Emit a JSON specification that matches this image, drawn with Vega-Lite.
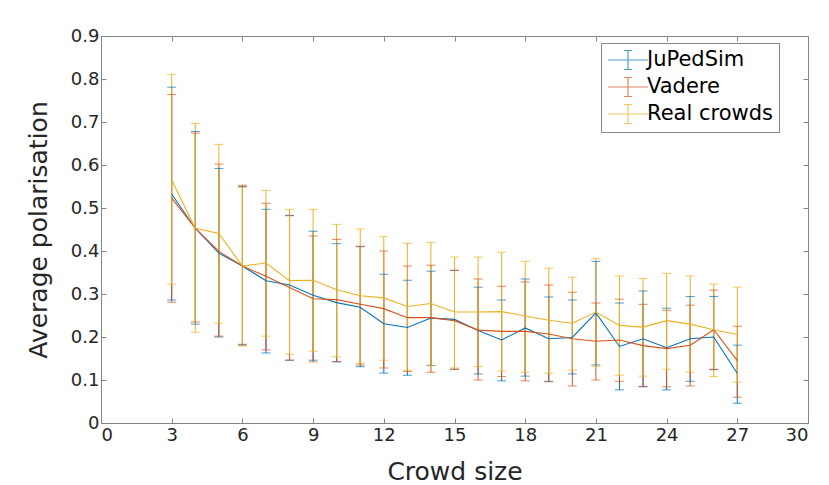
{
  "$schema": "https://vega.github.io/schema/vega-lite/v6.json",
  "width": 707,
  "height": 387,
  "autosize": {"type": "none"},
  "padding": {"left": 101, "top": 36, "right": 21, "bottom": 62},
  "background": "white",
  "config": {
    "view": {"stroke": "#858585", "strokeWidth": 1},
    "font": "DejaVu Sans",
    "axis": {
      "grid": false,
      "domainColor": "#858585",
      "tickColor": "#858585",
      "labelColor": "#262626",
      "titleColor": "#262626",
      "labelFont": "DejaVu Sans",
      "titleFont": "DejaVu Sans",
      "labelFontSize": 18,
      "titleFontSize": 25,
      "titleFontWeight": "normal",
      "tickSize": -5
    }
  },
  "data": {
    "values": [
      {"size": 3, "model": "JuPedSim", "mean": 0.532, "lo": 0.286, "hi": 0.781},
      {"size": 4, "model": "JuPedSim", "mean": 0.453, "lo": 0.230, "hi": 0.678},
      {"size": 5, "model": "JuPedSim", "mean": 0.395, "lo": 0.200, "hi": 0.592},
      {"size": 6, "model": "JuPedSim", "mean": 0.365, "lo": 0.183, "hi": 0.550},
      {"size": 7, "model": "JuPedSim", "mean": 0.331, "lo": 0.163, "hi": 0.497},
      {"size": 8, "model": "JuPedSim", "mean": 0.321, "lo": 0.146, "hi": 0.483},
      {"size": 9, "model": "JuPedSim", "mean": 0.297, "lo": 0.146, "hi": 0.446},
      {"size": 10, "model": "JuPedSim", "mean": 0.280, "lo": 0.142, "hi": 0.417},
      {"size": 11, "model": "JuPedSim", "mean": 0.269, "lo": 0.131, "hi": 0.410},
      {"size": 12, "model": "JuPedSim", "mean": 0.231, "lo": 0.116, "hi": 0.346},
      {"size": 13, "model": "JuPedSim", "mean": 0.222, "lo": 0.111, "hi": 0.332},
      {"size": 14, "model": "JuPedSim", "mean": 0.244, "lo": 0.134, "hi": 0.353},
      {"size": 15, "model": "JuPedSim", "mean": 0.241, "lo": 0.125, "hi": 0.355},
      {"size": 16, "model": "JuPedSim", "mean": 0.215, "lo": 0.114, "hi": 0.316},
      {"size": 17, "model": "JuPedSim", "mean": 0.193, "lo": 0.098, "hi": 0.286},
      {"size": 18, "model": "JuPedSim", "mean": 0.221, "lo": 0.109, "hi": 0.335},
      {"size": 19, "model": "JuPedSim", "mean": 0.196, "lo": 0.097, "hi": 0.293},
      {"size": 20, "model": "JuPedSim", "mean": 0.199, "lo": 0.114, "hi": 0.286},
      {"size": 21, "model": "JuPedSim", "mean": 0.256, "lo": 0.135, "hi": 0.376},
      {"size": 22, "model": "JuPedSim", "mean": 0.178, "lo": 0.077, "hi": 0.279},
      {"size": 23, "model": "JuPedSim", "mean": 0.196, "lo": 0.085, "hi": 0.307},
      {"size": 24, "model": "JuPedSim", "mean": 0.175, "lo": 0.077, "hi": 0.267},
      {"size": 25, "model": "JuPedSim", "mean": 0.196, "lo": 0.097, "hi": 0.294},
      {"size": 26, "model": "JuPedSim", "mean": 0.200, "lo": 0.124, "hi": 0.294},
      {"size": 27, "model": "JuPedSim", "mean": 0.115, "lo": 0.046, "hi": 0.181},
      {"size": 3, "model": "Vadere", "mean": 0.523, "lo": 0.281, "hi": 0.764},
      {"size": 4, "model": "Vadere", "mean": 0.453, "lo": 0.235, "hi": 0.674},
      {"size": 5, "model": "Vadere", "mean": 0.399, "lo": 0.202, "hi": 0.602},
      {"size": 6, "model": "Vadere", "mean": 0.365, "lo": 0.181, "hi": 0.553},
      {"size": 7, "model": "Vadere", "mean": 0.341, "lo": 0.170, "hi": 0.511},
      {"size": 8, "model": "Vadere", "mean": 0.315, "lo": 0.146, "hi": 0.482},
      {"size": 9, "model": "Vadere", "mean": 0.289, "lo": 0.142, "hi": 0.435},
      {"size": 10, "model": "Vadere", "mean": 0.287, "lo": 0.143, "hi": 0.427},
      {"size": 11, "model": "Vadere", "mean": 0.276, "lo": 0.135, "hi": 0.411},
      {"size": 12, "model": "Vadere", "mean": 0.266, "lo": 0.128, "hi": 0.400},
      {"size": 13, "model": "Vadere", "mean": 0.245, "lo": 0.120, "hi": 0.365},
      {"size": 14, "model": "Vadere", "mean": 0.245, "lo": 0.118, "hi": 0.367},
      {"size": 15, "model": "Vadere", "mean": 0.238, "lo": 0.125, "hi": 0.355},
      {"size": 16, "model": "Vadere", "mean": 0.216, "lo": 0.100, "hi": 0.335},
      {"size": 17, "model": "Vadere", "mean": 0.213, "lo": 0.108, "hi": 0.318},
      {"size": 18, "model": "Vadere", "mean": 0.213, "lo": 0.098, "hi": 0.328},
      {"size": 19, "model": "Vadere", "mean": 0.207, "lo": 0.096, "hi": 0.321},
      {"size": 20, "model": "Vadere", "mean": 0.196, "lo": 0.086, "hi": 0.304},
      {"size": 21, "model": "Vadere", "mean": 0.190, "lo": 0.100, "hi": 0.279},
      {"size": 22, "model": "Vadere", "mean": 0.193, "lo": 0.097, "hi": 0.288},
      {"size": 23, "model": "Vadere", "mean": 0.180, "lo": 0.084, "hi": 0.276},
      {"size": 24, "model": "Vadere", "mean": 0.173, "lo": 0.084, "hi": 0.262},
      {"size": 25, "model": "Vadere", "mean": 0.181, "lo": 0.086, "hi": 0.274},
      {"size": 26, "model": "Vadere", "mean": 0.217, "lo": 0.125, "hi": 0.309},
      {"size": 27, "model": "Vadere", "mean": 0.145, "lo": 0.060, "hi": 0.225},
      {"size": 3, "model": "Real crowds", "mean": 0.565, "lo": 0.323, "hi": 0.811},
      {"size": 4, "model": "Real crowds", "mean": 0.453, "lo": 0.211, "hi": 0.697},
      {"size": 5, "model": "Real crowds", "mean": 0.441, "lo": 0.232, "hi": 0.648},
      {"size": 6, "model": "Real crowds", "mean": 0.365, "lo": 0.179, "hi": 0.548},
      {"size": 7, "model": "Real crowds", "mean": 0.372, "lo": 0.202, "hi": 0.541},
      {"size": 8, "model": "Real crowds", "mean": 0.331, "lo": 0.160, "hi": 0.497},
      {"size": 9, "model": "Real crowds", "mean": 0.332, "lo": 0.167, "hi": 0.497},
      {"size": 10, "model": "Real crowds", "mean": 0.310, "lo": 0.154, "hi": 0.462},
      {"size": 11, "model": "Real crowds", "mean": 0.296, "lo": 0.139, "hi": 0.451},
      {"size": 12, "model": "Real crowds", "mean": 0.291, "lo": 0.146, "hi": 0.434},
      {"size": 13, "model": "Real crowds", "mean": 0.271, "lo": 0.123, "hi": 0.418},
      {"size": 14, "model": "Real crowds", "mean": 0.278, "lo": 0.133, "hi": 0.420},
      {"size": 15, "model": "Real crowds", "mean": 0.258, "lo": 0.128, "hi": 0.386},
      {"size": 16, "model": "Real crowds", "mean": 0.258, "lo": 0.131, "hi": 0.386},
      {"size": 17, "model": "Real crowds", "mean": 0.259, "lo": 0.121, "hi": 0.397},
      {"size": 18, "model": "Real crowds", "mean": 0.249, "lo": 0.118, "hi": 0.376},
      {"size": 19, "model": "Real crowds", "mean": 0.239, "lo": 0.116, "hi": 0.360},
      {"size": 20, "model": "Real crowds", "mean": 0.232, "lo": 0.123, "hi": 0.339},
      {"size": 21, "model": "Real crowds", "mean": 0.258, "lo": 0.132, "hi": 0.383},
      {"size": 22, "model": "Real crowds", "mean": 0.227, "lo": 0.111, "hi": 0.342},
      {"size": 23, "model": "Real crowds", "mean": 0.223, "lo": 0.109, "hi": 0.336},
      {"size": 24, "model": "Real crowds", "mean": 0.238, "lo": 0.125, "hi": 0.348},
      {"size": 25, "model": "Real crowds", "mean": 0.230, "lo": 0.118, "hi": 0.342},
      {"size": 26, "model": "Real crowds", "mean": 0.217, "lo": 0.108, "hi": 0.323},
      {"size": 27, "model": "Real crowds", "mean": 0.206, "lo": 0.095, "hi": 0.316}
    ]
  },
  "layer": [
    {
      "encoding": {
        "x": {
          "field": "size",
          "type": "quantitative",
          "scale": {"domain": [0, 30], "nice": false},
          "axis": {
            "orient": "bottom",
            "values": [0, 3, 6, 9, 12, 15, 18, 21, 24, 27, 30],
            "title": "Crowd size",
            "labelPadding": 8,
            "titlePadding": 15
          }
        },
        "color": {
          "field": "model",
          "type": "nominal",
          "scale": {
            "domain": ["JuPedSim", "Vadere", "Real crowds"],
            "range": ["#0072BD", "#D95319", "#EDB120"]
          },
          "legend": {
            "orient": "none",
            "legendX": 500,
            "legendY": 7,
            "title": null,
            "symbolType": "M-2,0H2M0,-0.95V0.95M-0.4,-0.95H0.4M-0.4,0.95H0.4",
            "symbolSize": 400,
            "symbolOffset": 10,
            "symbolStrokeWidth": 1.2,
            "symbolFillColor": "transparent",
            "labelFont": "DejaVu Sans",
            "labelFontSize": 21,
            "labelColor": "#000000",
            "labelOffset": 8,
            "rowPadding": 3,
            "padding": 6,
            "strokeColor": "#858585",
            "fillColor": "white"
          }
        }
      },
      "layer": [
        {
          "mark": {"type": "rule", "strokeWidth": 1},
          "encoding": {
            "y": {
              "field": "lo",
              "type": "quantitative",
              "scale": {"domain": [0, 0.9], "nice": false},
              "axis": {
                "orient": "left",
                "values": [0, 0.1, 0.2, 0.3, 0.4, 0.5, 0.6, 0.7, 0.8, 0.9],
                "labelExpr": "datum.value == 0 ? '0' : format(datum.value, '.1f')",
                "title": "Average polarisation",
                "labelPadding": 7,
                "titlePadding": 19
              }
            },
            "y2": {"field": "hi"}
          }
        },
        {
          "mark": {"type": "tick", "orient": "horizontal", "size": 9, "thickness": 1},
          "encoding": {"y": {"field": "lo", "type": "quantitative"}}
        },
        {
          "mark": {"type": "tick", "orient": "horizontal", "size": 9, "thickness": 1},
          "encoding": {"y": {"field": "hi", "type": "quantitative"}}
        },
        {
          "mark": {"type": "line", "strokeWidth": 1.1},
          "encoding": {"y": {"field": "mean", "type": "quantitative"}}
        }
      ]
    },
    {
      "mark": {"type": "point", "opacity": 0},
      "encoding": {
        "x": {
          "field": "size",
          "type": "quantitative",
          "axis": {
            "orient": "top",
            "values": [0, 3, 6, 9, 12, 15, 18, 21, 24, 27, 30],
            "labels": false,
            "title": null,
            "domain": false
          }
        },
        "y": {
          "field": "mean",
          "type": "quantitative",
          "axis": {
            "orient": "right",
            "values": [0, 0.1, 0.2, 0.3, 0.4, 0.5, 0.6, 0.7, 0.8, 0.9],
            "labels": false,
            "title": null,
            "domain": false
          }
        }
      }
    }
  ],
  "resolve": {"axis": {"x": "independent", "y": "independent"}}
}
